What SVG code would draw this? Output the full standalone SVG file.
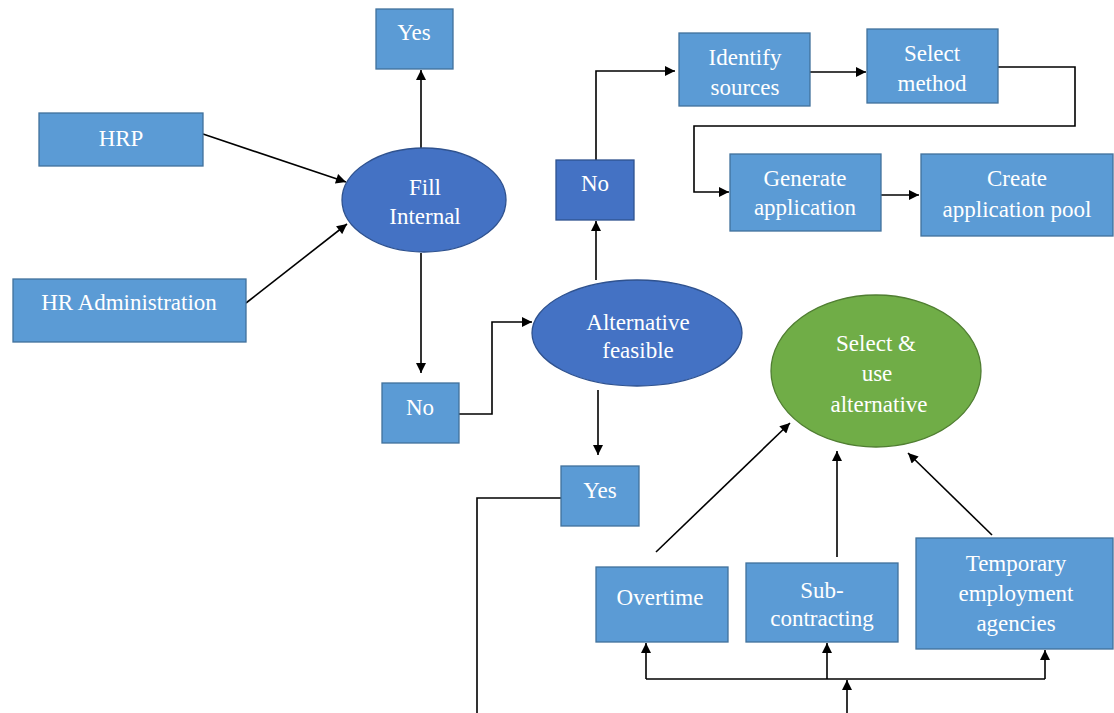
<svg xmlns="http://www.w3.org/2000/svg" width="1114" height="713" viewBox="0 0 1114 713">
  <defs>
    <marker id="arrow" viewBox="0 0 10 10" refX="10" refY="5" markerWidth="11" markerHeight="10" markerUnits="userSpaceOnUse" orient="auto">
      <path d="M0,0 L10,5 L0,10 z" fill="#000"/>
    </marker>
    <style>
      .box { fill: #5B9BD5; stroke: #41719C; stroke-width: 1.3; }
      .dark { fill: #4472C4; stroke: #2F528F; stroke-width: 1.3; }
      .green { fill: #70AD47; stroke: #507E32; stroke-width: 1.3; }
      .lbl { font-size: 23px; fill: #fff; text-anchor: middle; }
      .conn path, .conn line { fill: none; stroke: #000; stroke-width: 1.6; }
      .arr { marker-end: url(#arrow); }
    </style>
  </defs>
  <rect width="1114" height="713" fill="#fff"/>

  <!-- connectors -->
  <g id="connectors" class="conn">
    <line class="arr" x1="421" y1="148" x2="421" y2="70"/>
    <line class="arr" x1="203" y1="134" x2="346" y2="182"/>
    <line class="arr" x1="246" y1="303" x2="347" y2="224"/>
    <line class="arr" x1="421" y1="253" x2="421" y2="373"/>
    <path class="arr" d="M459,414 H492 V322 H532"/>
    <line class="arr" x1="596" y1="280" x2="596" y2="221"/>
    <path class="arr" d="M596,160 V71 H675"/>
    <line class="arr" x1="810" y1="72" x2="866" y2="72"/>
    <path class="arr" d="M998,67 H1075 V126 H694 V192 H729"/>
    <line class="arr" x1="881" y1="195" x2="919" y2="195"/>
    <line class="arr" x1="598" y1="390" x2="598" y2="455"/>
    <path d="M561,498 H477 V713"/>
    <line class="arr" x1="656" y1="552" x2="790" y2="423"/>
    <line class="arr" x1="837" y1="557" x2="837" y2="451"/>
    <line class="arr" x1="992" y1="535" x2="908" y2="453"/>
    <path d="M646,679 H1045"/>
    <line class="arr" x1="646" y1="679" x2="646" y2="643"/>
    <line class="arr" x1="827" y1="679" x2="827" y2="643"/>
    <line class="arr" x1="1045" y1="679" x2="1045" y2="650"/>
    <line class="arr" x1="847" y1="713" x2="847" y2="680"/>
  </g>

  <g font-family="'Liberation Serif', 'Times New Roman', Times, serif">
  <g id="yes-top">
    <rect class="box" x="376" y="9" width="77" height="60"/>
    <text class="lbl" x="414" y="40">Yes</text>
  </g>
  <g id="hrp">
    <rect class="box" x="39" y="113" width="164" height="53"/>
    <text class="lbl" x="121" y="146">HRP</text>
  </g>
  <g id="hr-administration">
    <rect class="box" x="13" y="279" width="233" height="63"/>
    <text class="lbl" x="129" y="310">HR Administration</text>
  </g>
  <g id="fill-internal">
    <ellipse class="dark" cx="424" cy="200" rx="82" ry="52"/>
    <text class="lbl" x="425" y="195">Fill</text>
    <text class="lbl" x="425" y="224">Internal</text>
  </g>
  <g id="no-lower">
    <rect class="box" x="382" y="383" width="77" height="60"/>
    <text class="lbl" x="420" y="415">No</text>
  </g>
  <g id="alternative-feasible">
    <ellipse class="dark" cx="637" cy="333" rx="105" ry="53"/>
    <text class="lbl" x="638" y="330">Alternative</text>
    <text class="lbl" x="638" y="358">feasible</text>
  </g>
  <g id="no-upper">
    <rect class="dark" x="556" y="160" width="78" height="60"/>
    <text class="lbl" x="595" y="191">No</text>
  </g>
  <g id="identify-sources">
    <rect class="box" x="679" y="33" width="131" height="73"/>
    <text class="lbl" x="745" y="65">Identify</text>
    <text class="lbl" x="745" y="95">sources</text>
  </g>
  <g id="select-method">
    <rect class="box" x="867" y="29" width="131" height="74"/>
    <text class="lbl" x="932" y="61">Select</text>
    <text class="lbl" x="932" y="91">method</text>
  </g>
  <g id="generate-application">
    <rect class="box" x="730" y="154" width="151" height="77"/>
    <text class="lbl" x="805" y="186">Generate</text>
    <text class="lbl" x="805" y="215">application</text>
  </g>
  <g id="create-application-pool">
    <rect class="box" x="921" y="154" width="192" height="82"/>
    <text class="lbl" x="1017" y="186">Create</text>
    <text class="lbl" x="1017" y="217">application pool</text>
  </g>
  <g id="yes-lower">
    <rect class="box" x="561" y="466" width="78" height="60"/>
    <text class="lbl" x="600" y="498">Yes</text>
  </g>
  <g id="select-use-alternative">
    <ellipse class="green" cx="876" cy="371" rx="105" ry="76"/>
    <text class="lbl" x="876" y="351">Select &amp;</text>
    <text class="lbl" x="877" y="381">use</text>
    <text class="lbl" x="879" y="412">alternative</text>
  </g>
  <g id="overtime">
    <rect class="box" x="596" y="567" width="132" height="75"/>
    <text class="lbl" x="660" y="605">Overtime</text>
  </g>
  <g id="sub-contracting">
    <rect class="box" x="746" y="563" width="152" height="79"/>
    <text class="lbl" x="822" y="598">Sub-</text>
    <text class="lbl" x="822" y="626">contracting</text>
  </g>
  <g id="temporary-employment-agencies">
    <rect class="box" x="916" y="538" width="197" height="111"/>
    <text class="lbl" x="1016" y="571">Temporary</text>
    <text class="lbl" x="1016" y="601">employment</text>
    <text class="lbl" x="1016" y="631">agencies</text>
  </g>
  </g>
</svg>
